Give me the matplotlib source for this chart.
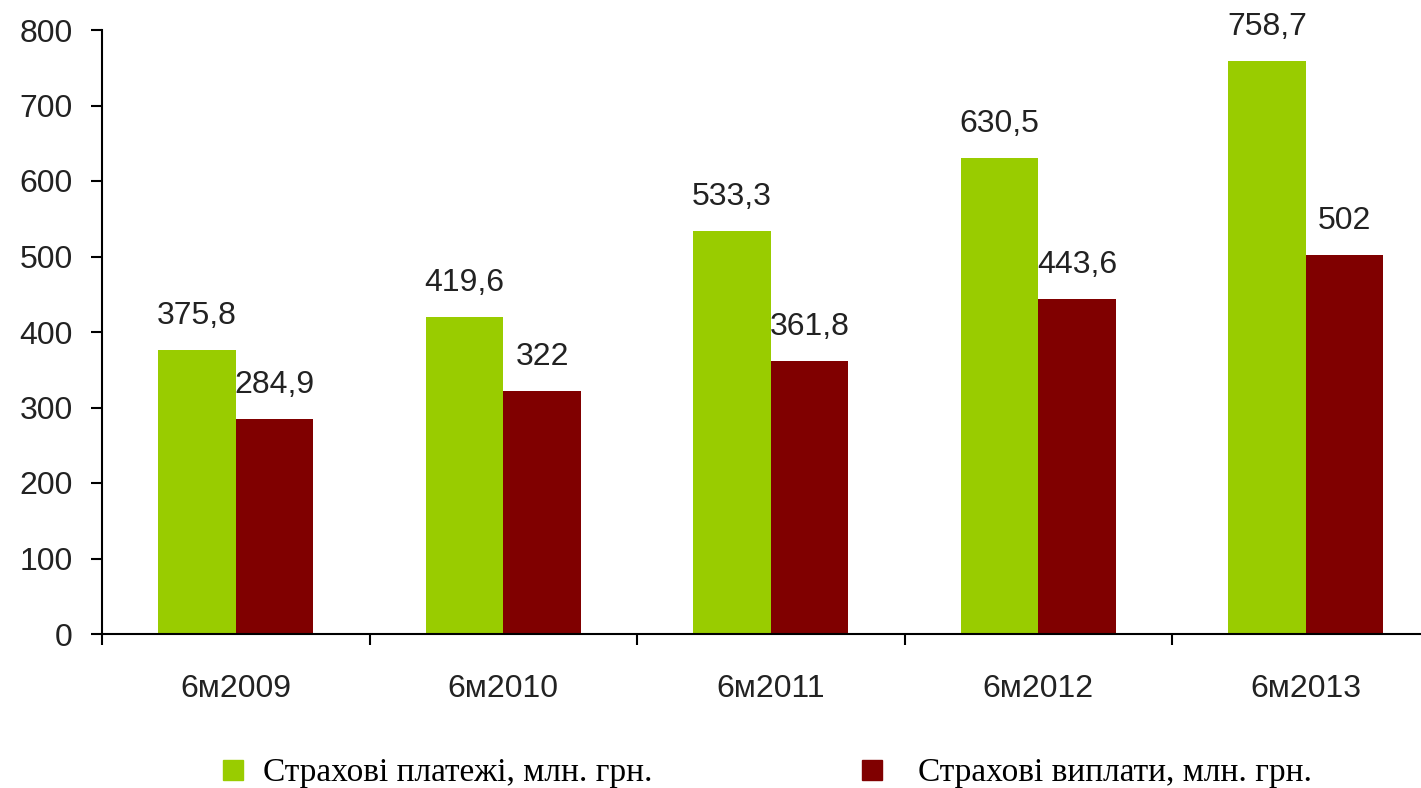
import numpy as np
import matplotlib.pyplot as plt
from matplotlib.lines import Line2D

# дані
periods = ['6м2009', '6м2010', '6м2011', '6м2012', '6м2013']
payments = [375.8, 419.6, 533.3, 630.5, 758.7]
claims = [284.9, 322, 361.8, 443.6, 502]
payment_labels = ['375,8', '419,6', '533,3', '630,5', '758,7']
claim_labels = ['284,9', '322', '361,8', '443,6', '502']
legend_labels = ['Страхові платежі, млн. грн.', 'Страхові виплати, млн. грн.']

green = '#99cc00'
red = '#800000'

W, H = 1421, 788
fig = plt.figure(figsize=(W / 100, H / 100), dpi=100)
ax = fig.add_axes([102 / W, (H - 634) / H, 1337.5 / W, 604 / H])

x = np.arange(len(periods))
bw = 0.29
ax.bar(x - bw / 2, payments, bw, color=green)
ax.bar(x + bw / 2, claims, bw, color=red)

font = 'Liberation Sans'
fs = 23
for xi, v, t in zip(x, payments, payment_labels):
    ax.text(xi - bw / 2, v + 25, t, ha='center', va='bottom', fontsize=fs, family=font, color='#222222')
for xi, v, t in zip(x, claims, claim_labels):
    ax.text(xi + bw / 2, v + 25, t, ha='center', va='bottom', fontsize=fs, family=font, color='#222222')

ax.set_xlim(-0.5, len(periods) - 0.5)
ax.set_ylim(0, 800)
ax.set_yticks(range(0, 801, 100))
ax.set_xticks(x)
ax.set_xticklabels(periods)
ax.set_xticks(np.arange(-0.5, len(periods), 1), minor=True)
ax.tick_params(axis='x', which='major', length=0, pad=29)
ax.tick_params(axis='x', which='minor', length=8, width=1.5, direction='out')
ax.tick_params(axis='y', length=8, width=1.5, direction='out', pad=13)
for lab in ax.get_xticklabels() + ax.get_yticklabels():
    lab.set_fontsize(fs)
    lab.set_family(font)
    lab.set_color('#222222')

for s in ['top', 'right']:
    ax.spines[s].set_visible(False)
for s in ['left', 'bottom']:
    ax.spines[s].set_linewidth(1.5)

# легенда: два окремі блоки
lprop = {'family': 'Liberation Serif', 'size': 24}
for color, label, x0, pad in [(green, legend_labels[0], 220, 0.52),
                              (red, legend_labels[1], 859, 1.0)]:
    h = Line2D([], [], marker='s', linestyle='none', markersize=15, color=color)
    fig.legend([h], [label], loc='center left', bbox_to_anchor=(x0 / W, 1 - 773 / H),
               frameon=False, handlelength=0.77, handletextpad=pad,
               borderpad=0, borderaxespad=0, prop=lprop)

fig.savefig('out.png', dpi=100)
